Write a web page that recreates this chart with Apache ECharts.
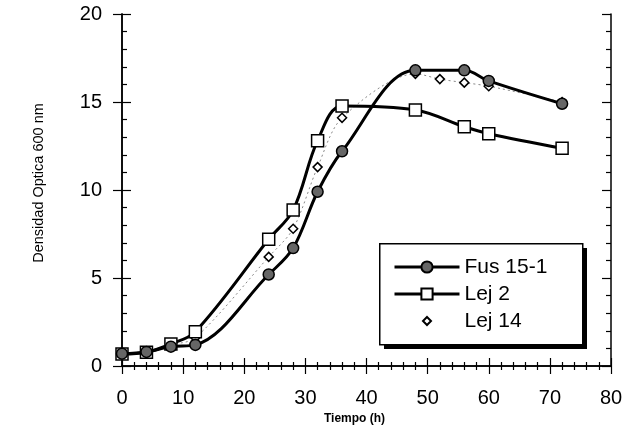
<!DOCTYPE html>
<html>
<head>
<meta charset="utf-8">
<script src="https://cdn.jsdelivr.net/npm/echarts@6/dist/echarts.min.js"></script>
<style>
  html, body { margin: 0; padding: 0; background: #fff; }
  #chart { width: 630px; height: 430px; }
</style>
</head>
<body>
<div id="chart"></div>
<script>
// tiempo (h) de muestreo
const hours = [0, 4, 8, 12, 24, 28, 32, 36, 48, 56, 60, 72];
const hoursLej14 = [0, 4, 8, 12, 24, 28, 32, 36, 48, 52, 56, 60, 72];
// densidad optica 600 nm
const fus151 = [0.7, 0.8, 1.1, 1.2, 5.2, 6.7, 9.9, 12.2, 16.8, 16.8, 16.2, 14.9];
const lej2 = [0.68, 0.78, 1.25, 1.95, 7.2, 8.86, 12.8, 14.77, 14.55, 13.6, 13.2, 12.37];
const lej14 = [0.7, 0.8, 1.2, 1.6, 6.2, 7.8, 11.3, 14.1, 16.6, 16.3, 16.1, 15.9, 15.0];
const xTicks = [0, 10, 20, 30, 40, 50, 60, 70, 80];
const yTicks = [0, 5, 10, 15, 20];

const pairs = (xs, ys) => xs.map((x, i) => [x, ys[i]]);
const font = 'Arial, "Liberation Sans", sans-serif';

const chartDom = document.getElementById('chart');
const myChart = echarts.init(chartDom);

const axisLine = { show: true, lineStyle: { color: '#000', width: 1.5 } };
const tickStyle = { color: '#000', width: 1.2 };

const option = {
    animation: false,
    backgroundColor: '#fff',
    grid: { left: 122, right: 19, top: 14, bottom: 64 },
    xAxis: [
        {
            type: 'value', position: 'bottom',
            min: xTicks[0], max: xTicks[xTicks.length - 1], interval: 10,
            axisLine: axisLine,
            axisTick: { inside: true, length: 8, lineStyle: tickStyle },
            minorTick: { show: true, splitNumber: 5, length: 4, lineStyle: tickStyle },
            splitLine: { show: false },
            axisLabel: { fontSize: 20, color: '#000', fontFamily: font, margin: 22 },
            name: 'Tiempo (h)', nameLocation: 'middle', nameGap: 35,
            nameTextStyle: { fontSize: 12, fontWeight: 'bold', color: '#000', fontFamily: font, padding: [0, 24, 0, 0] }
        },
        {
            type: 'value', position: 'top',
            min: xTicks[0], max: xTicks[xTicks.length - 1], interval: 10,
            axisLine: axisLine,
            axisTick: { inside: true, length: 8, lineStyle: tickStyle },
            minorTick: { show: true, splitNumber: 5, length: 4, lineStyle: tickStyle },
            splitLine: { show: false },
            axisLabel: { show: false }
        }
    ],
    yAxis: [
        {
            type: 'value', position: 'left',
            min: yTicks[0], max: yTicks[yTicks.length - 1], interval: 5,
            axisLine: axisLine,
            axisTick: { inside: false, length: 9, lineStyle: tickStyle },
            splitLine: { show: false },
            axisLabel: { fontSize: 20, color: '#000', fontFamily: font, margin: 20 },
            name: 'Densidad Optica 600 nm', nameLocation: 'middle', nameGap: 76,
            nameTextStyle: { fontSize: 14.5, color: '#000', fontFamily: font, padding: [0, 0, 0, 14] }
        },
        {
            type: 'value', position: 'left',
            min: yTicks[0], max: yTicks[yTicks.length - 1], interval: 5,
            axisLine: axisLine,
            axisTick: { inside: true, length: 9, lineStyle: tickStyle },
            minorTick: { show: true, splitNumber: 5, length: 5, lineStyle: tickStyle },
            splitLine: { show: false },
            axisLabel: { show: false }
        },
        {
            type: 'value', position: 'right',
            min: yTicks[0], max: yTicks[yTicks.length - 1], interval: 5,
            axisLine: axisLine,
            axisTick: { inside: true, length: 9, lineStyle: tickStyle },
            minorTick: { show: true, splitNumber: 5, length: 5, lineStyle: tickStyle },
            splitLine: { show: false },
            axisLabel: { show: false }
        }
    ],
    // recuadro de la leyenda con sombra negra
    graphic: [
        { type: 'rect', left: 384, top: 248, shape: { width: 203, height: 101 }, style: { fill: '#000' }, z: 6 },
        { type: 'rect', left: 379, top: 243, shape: { width: 203, height: 101 }, style: { fill: '#fff', stroke: '#000', lineWidth: 1.5 }, z: 6 }
    ],
    legend: {
        orient: 'vertical',
        left: 379, top: 244,
        padding: [12, 28, 11, 14],
        itemGap: 5,
        itemWidth: 65, itemHeight: 14,
        z: 10,
        textStyle: { fontSize: 21, color: '#000', fontFamily: font, lineHeight: 22 },
        data: [
            { name: 'Fus 15-1', lineStyle: { width: 3, color: '#000' } },
            { name: 'Lej 2', lineStyle: { width: 3, color: '#000' } },
            { name: 'Lej 14', icon: 'path://M0,0M14,14M7,3L11,7L7,11L3,7Z' }
        ]
    },
    series: [
        {
            name: 'Lej 14', type: 'line',
            data: pairs(hoursLej14, lej14),
            smooth: 0.3,
            symbol: 'diamond', symbolSize: 9,
            lineStyle: { color: '#888', width: 1, type: [2, 3] },
            itemStyle: { color: '#fff', borderColor: '#000', borderWidth: 1.5 },
            z: 3
        },
        {
            name: 'Lej 2', type: 'line',
            data: pairs(hours, lej2),
            smooth: 0.35,
            symbol: 'rect', symbolSize: 12,
            lineStyle: { color: '#000', width: 3 },
            itemStyle: { color: '#fff', borderColor: '#000', borderWidth: 1.5 },
            z: 4
        },
        {
            name: 'Fus 15-1', type: 'line',
            data: pairs(hours, fus151),
            smooth: 0.35,
            symbol: 'circle', symbolSize: 11,
            lineStyle: { color: '#000', width: 3 },
            itemStyle: { color: '#666', borderColor: '#000', borderWidth: 1.5 },
            z: 5
        }
    ]
};

option && myChart.setOption(option);
</script>
</body>
</html>
